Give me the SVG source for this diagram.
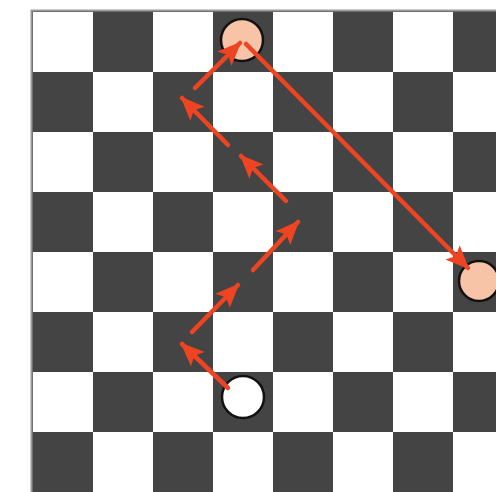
<svg xmlns="http://www.w3.org/2000/svg" width="496" height="492" viewBox="0 0 496 492">
  <defs>
    <style>
      .w { fill: #ffffff; }
      .arrow { stroke: #ee4422; stroke-width: 4.5; fill: none; stroke-linecap: round; marker-end: url(#ah); }
      .piece { stroke: #111111; stroke-width: 2.5; }
    </style>
    <marker id="ah" viewBox="0 0 24 20" refX="22" refY="10" markerWidth="24" markerHeight="20" markerUnits="userSpaceOnUse" orient="auto">
      <path d="M0,0 L24,10 L0,20 L5,10 Z" fill="#ee4422"/>
    </marker>
  </defs>
  <rect width="496" height="492" fill="#ffffff"/>
  <g id="board">
    <rect x="31.5" y="10.5" width="480" height="490" fill="#444444" stroke="#9a9a9a" stroke-width="2"/>
    <g id="squares">
      <rect class="w" x="33" y="12" width="60" height="60"/>
      <rect class="w" x="153" y="12" width="60" height="60"/>
      <rect class="w" x="273" y="12" width="60" height="60"/>
      <rect class="w" x="393" y="12" width="60" height="60"/>
      <rect class="w" x="93" y="72" width="60" height="60"/>
      <rect class="w" x="213" y="72" width="60" height="60"/>
      <rect class="w" x="333" y="72" width="60" height="60"/>
      <rect class="w" x="453" y="72" width="60" height="60"/>
      <rect class="w" x="33" y="132" width="60" height="60"/>
      <rect class="w" x="153" y="132" width="60" height="60"/>
      <rect class="w" x="273" y="132" width="60" height="60"/>
      <rect class="w" x="393" y="132" width="60" height="60"/>
      <rect class="w" x="93" y="192" width="60" height="60"/>
      <rect class="w" x="213" y="192" width="60" height="60"/>
      <rect class="w" x="333" y="192" width="60" height="60"/>
      <rect class="w" x="453" y="192" width="60" height="60"/>
      <rect class="w" x="33" y="252" width="60" height="60"/>
      <rect class="w" x="153" y="252" width="60" height="60"/>
      <rect class="w" x="273" y="252" width="60" height="60"/>
      <rect class="w" x="393" y="252" width="60" height="60"/>
      <rect class="w" x="93" y="312" width="60" height="60"/>
      <rect class="w" x="213" y="312" width="60" height="60"/>
      <rect class="w" x="333" y="312" width="60" height="60"/>
      <rect class="w" x="453" y="312" width="60" height="60"/>
      <rect class="w" x="33" y="372" width="60" height="60"/>
      <rect class="w" x="153" y="372" width="60" height="60"/>
      <rect class="w" x="273" y="372" width="60" height="60"/>
      <rect class="w" x="393" y="372" width="60" height="60"/>
      <rect class="w" x="93" y="432" width="60" height="60"/>
      <rect class="w" x="213" y="432" width="60" height="60"/>
      <rect class="w" x="333" y="432" width="60" height="60"/>
      <rect class="w" x="453" y="432" width="60" height="60"/>
    </g>
  </g>
  <g id="piece-top"><circle class="piece" cx="242" cy="40" r="21" fill="#f7c4a8"/></g>
  <g id="piece-right"><circle class="piece" cx="479" cy="281" r="20" fill="#f7c4a8"/></g>
  <g id="piece-white"><circle class="piece" cx="243" cy="397" r="21" fill="#ffffff"/></g>
  <g id="connectors">
    <line class="arrow" x1="228" y1="388" x2="182" y2="344"/>
    <line class="arrow" x1="192" y1="332" x2="238" y2="285"/>
    <line class="arrow" x1="253" y1="270" x2="298" y2="222"/>
    <line class="arrow" x1="286" y1="201" x2="241" y2="156"/>
    <line class="arrow" x1="228" y1="145" x2="182" y2="98"/>
    <line class="arrow" x1="195" y1="88" x2="240" y2="43"/>
    <line class="arrow" x1="246" y1="44" x2="468" y2="268"/>
  </g>
</svg>
